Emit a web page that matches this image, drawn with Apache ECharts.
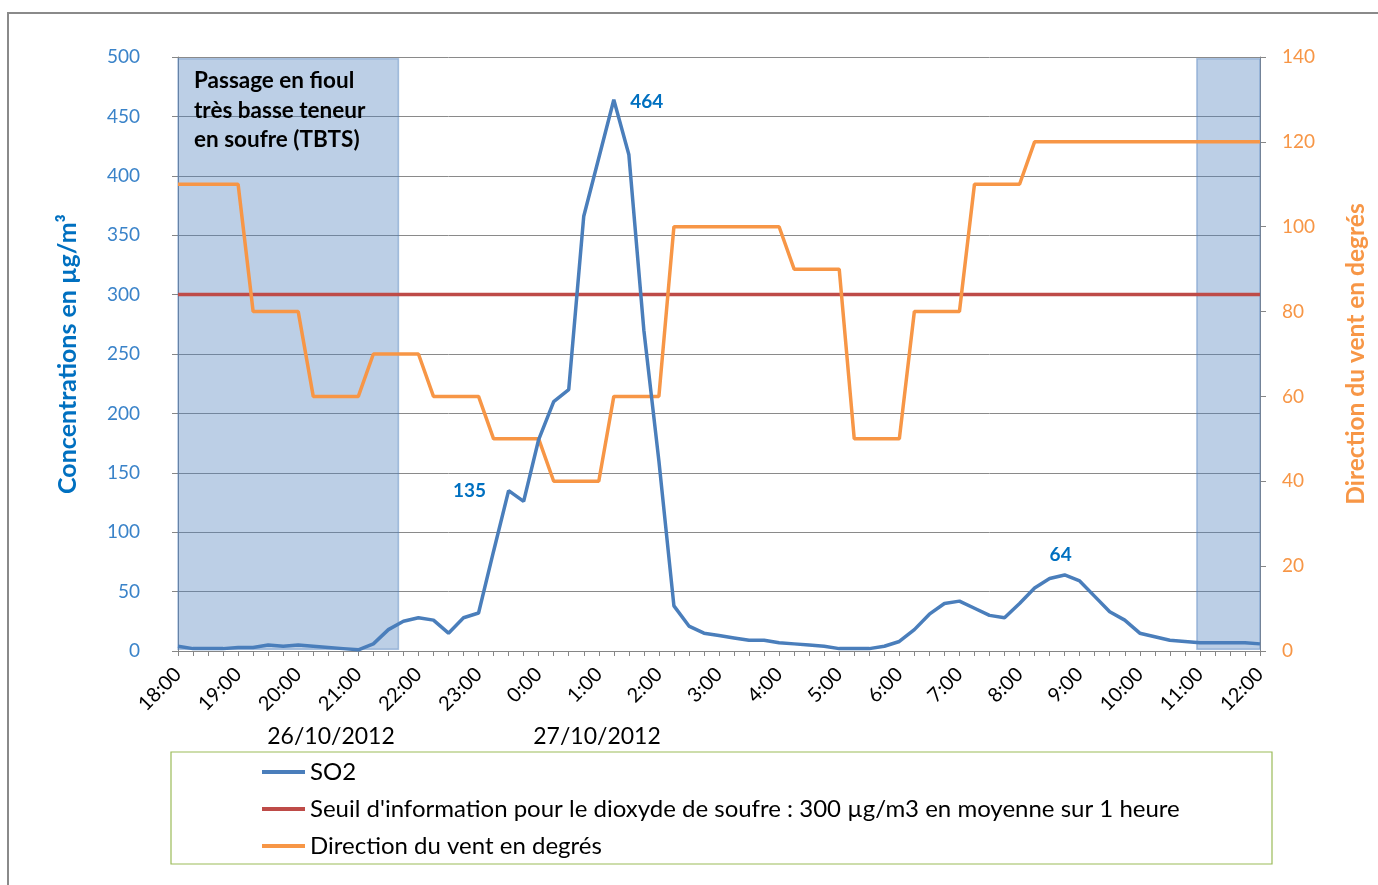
<!DOCTYPE html>
<html><head><meta charset="utf-8">
<script src="https://cdn.jsdelivr.net/npm/echarts@6/dist/echarts.min.js"></script>
<style>html,body{margin:0;padding:0;background:#fff}#c{width:1378px;height:885px}</style>
</head><body><div id="c"></div>
<script>
const times = ['18:00','18:15','18:30','18:45','19:00','19:15','19:30','19:45','20:00','20:15','20:30','20:45',
'21:00','21:15','21:30','21:45','22:00','22:15','22:30','22:45','23:00','23:15','23:30','23:45',
'0:00','0:15','0:30','0:45','1:00','1:15','1:30','1:45','2:00','2:15','2:30','2:45',
'3:00','3:15','3:30','3:45','4:00','4:15','4:30','4:45','5:00','5:15','5:30','5:45',
'6:00','6:15','6:30','6:45','7:00','7:15','7:30','7:45','8:00','8:15','8:30','8:45',
'9:00','9:15','9:30','9:45','10:00','10:15','10:30','10:45','11:00','11:15','11:30','11:45','12:00'];
const hourLabels = ['18:00','19:00','20:00','21:00','22:00','23:00','0:00','1:00','2:00','3:00','4:00','5:00',
'6:00','7:00','8:00','9:00','10:00','11:00','12:00'];
const so2 = [4,2,2,2,3,3,5,4,5,4,3,2,1,6,18,25,28,26,15,28,32,84,135,126,178,210,220,366,415,464,418,270,160,38,
21,15,13,11,9,9,7,6,5,4,2,2,2,4,8,18,31,40,42,36,30,28,40,53,61,64,59,46,33,26,15,12,9,8,7,7,7,7,6];
const windDir = [110,110,110,110,110,80,80,80,80,60,60,60,60,70,70,70,70,60,60,60,60,50,50,50,50,40,40,40,40,
60,60,60,60,100,100,100,100,100,100,100,100,90,90,90,90,50,50,50,50,80,80,80,80,110,110,110,110,
120,120,120,120,120,120,120,120,120,120,120,120,120,120,120,120];
const thresholdValue = 300;
const leftTicks = {min:0, max:500, interval:50};
const rightTicks = {min:0, max:140, interval:20};
const dateLabels = ['26/10/2012','27/10/2012'];
const annotation = 'Passage en fioul\ntrès basse teneur\nen soufre (TBTS)';
const shadedPeriods = [['18:00','21:40'],['10:57','12:00']];
const labeledPoints = [{time:'23:30', pos:'left'},{time:'1:15', pos:'right'},{time:'8:45', pos:'top'}];
const seriesNames = ['SO2',"Seuil d'information pour le dioxyde de soufre : 300 µg/m3 en moyenne sur 1 heure",'Direction du vent en degrés'];

function toMin(t){const [h,m]=t.split(':').map(Number);let v=h*60+m;if(h<18)v+=1440;return v-1080;}
const xs = times.map(toMin);
const FONT='Lato';
const so2Data = so2.map((v,i)=>[xs[i],v]);
const windData = windDir.map((v,i)=>[xs[i],v]);
const thrData = xs.map(x=>[x,thresholdValue]);
const markPts = labeledPoints.map(p=>{
  const i=times.indexOf(p.time);
  const lab={position:p.pos,distance:p.pos==='top'?10:(p.pos==='left'?22:16)};
  if(p.pos==='top') lab.offset=[-4,0];
  if(p.pos==='right') lab.offset=[0,2];
  return {coord:[xs[i],so2[i]],value:so2[i],label:lab};
});

const chart = echarts.init(document.getElementById('c'));
chart.setOption({
  backgroundColor:'#fff',
  animation:false,
  grid:{left:178,right:118,top:57,bottom:234,containLabel:false},
  legend:{
    orient:'vertical',left:262,top:760,padding:0,itemGap:13,itemWidth:43,itemHeight:4,icon:'rect',
    textStyle:{fontFamily:FONT,fontSize:24,color:'#000',lineHeight:24},
    data:seriesNames
  },
  xAxis:{
    type:'value',min:0,max:1080,interval:60,
    axisLine:{lineStyle:{color:'#868686',width:1}},
    axisTick:{show:true,length:5,lineStyle:{color:'#868686'}},
    minorTick:{show:true,splitNumber:4,length:5,lineStyle:{color:'#868686'}},
    splitLine:{show:false},
    axisLabel:{rotate:45,margin:20,fontFamily:FONT,fontSize:20,color:'#000',
      formatter:v=>hourLabels[Math.round(v/60)]}
  },
  yAxis:[{
    type:'value',min:leftTicks.min,max:leftTicks.max,interval:leftTicks.interval,position:'left',
    name:'Concentrations en µg/m³',nameLocation:'middle',nameGap:98,nameRotate:90,
    nameTextStyle:{fontFamily:FONT,fontWeight:'bold',fontSize:25,color:'#0070C0'},
    axisLine:{show:true,lineStyle:{color:'#868686'}},
    axisTick:{show:true,length:6,lineStyle:{color:'#868686'}},
    splitLine:{show:true,lineStyle:{color:'#8a8a8a',width:1}},
    axisLabel:{margin:38,fontFamily:FONT,fontSize:19,color:'#3A83C9'}
  },{
    type:'value',min:rightTicks.min,max:rightTicks.max,interval:rightTicks.interval,position:'right',
    name:'Direction du vent en degrés',nameLocation:'middle',nameGap:84,nameRotate:90,
    nameTextStyle:{fontFamily:FONT,fontWeight:'bold',fontSize:24.5,color:'#F79646'},
    axisLine:{show:true,lineStyle:{color:'#868686'}},
    axisTick:{show:true,length:6,lineStyle:{color:'#868686'}},
    splitLine:{show:false},
    axisLabel:{margin:22,fontFamily:FONT,fontSize:19,color:'#F79646'}
  }],
  series:[
    {name:seriesNames[0],type:'line',yAxisIndex:0,data:so2Data,showSymbol:false,symbol:'none',
      lineStyle:{color:'#4A7EBB',width:3.5},itemStyle:{color:'#4A7EBB'},z:3,
      markPoint:{symbol:'circle',symbolSize:1,itemStyle:{color:'rgba(0,0,0,0)'},silent:true,
        label:{show:true,color:'#0070C0',fontFamily:FONT,fontWeight:'bold',fontSize:19,formatter:'{c}'},
        data:markPts}},
    {name:seriesNames[1],type:'line',yAxisIndex:0,data:thrData,showSymbol:false,symbol:'none',
      lineStyle:{color:'#BE4B48',width:3.5},itemStyle:{color:'#BE4B48'},z:2},
    {name:seriesNames[2],type:'line',yAxisIndex:1,data:windData,showSymbol:false,symbol:'none',
      lineStyle:{color:'#F79646',width:3.5},itemStyle:{color:'#F79646'},z:2},
    {name:'shade',type:'line',yAxisIndex:0,data:[],z:10,silent:true,
      markArea:{silent:true,
        itemStyle:{color:'rgba(79,129,189,0.38)',borderColor:'rgba(79,129,189,0.45)',borderWidth:1.5},
        data:shadedPeriods.map(p=>[{xAxis:toMin(p[0]),yAxis:1.5},{xAxis:toMin(p[1]),yAxis:498.5}])}}
  ],
  graphic:[
    {type:'rect',shape:{x:8,y:13,width:1400,height:900},style:{fill:'none',stroke:'#8a8a8a',lineWidth:2},silent:true},
    {type:'rect',shape:{x:171,y:752,width:1101,height:112},style:{fill:'none',stroke:'#9BBB59',lineWidth:1.2},silent:true},
    {type:'text',left:194,top:66,z:20,style:{text:annotation,fontFamily:FONT,fontWeight:'bold',fontSize:22.5,lineHeight:29.5,fill:'#000'}},
    {type:'text',x:331,y:737,z:20,style:{text:dateLabels[0],fontFamily:FONT,fontSize:23,fill:'#000',align:'center',verticalAlign:'middle'}},
    {type:'text',x:597,y:737,z:20,style:{text:dateLabels[1],fontFamily:FONT,fontSize:23,fill:'#000',align:'center',verticalAlign:'middle'}}
  ]
});
</script></body></html>
